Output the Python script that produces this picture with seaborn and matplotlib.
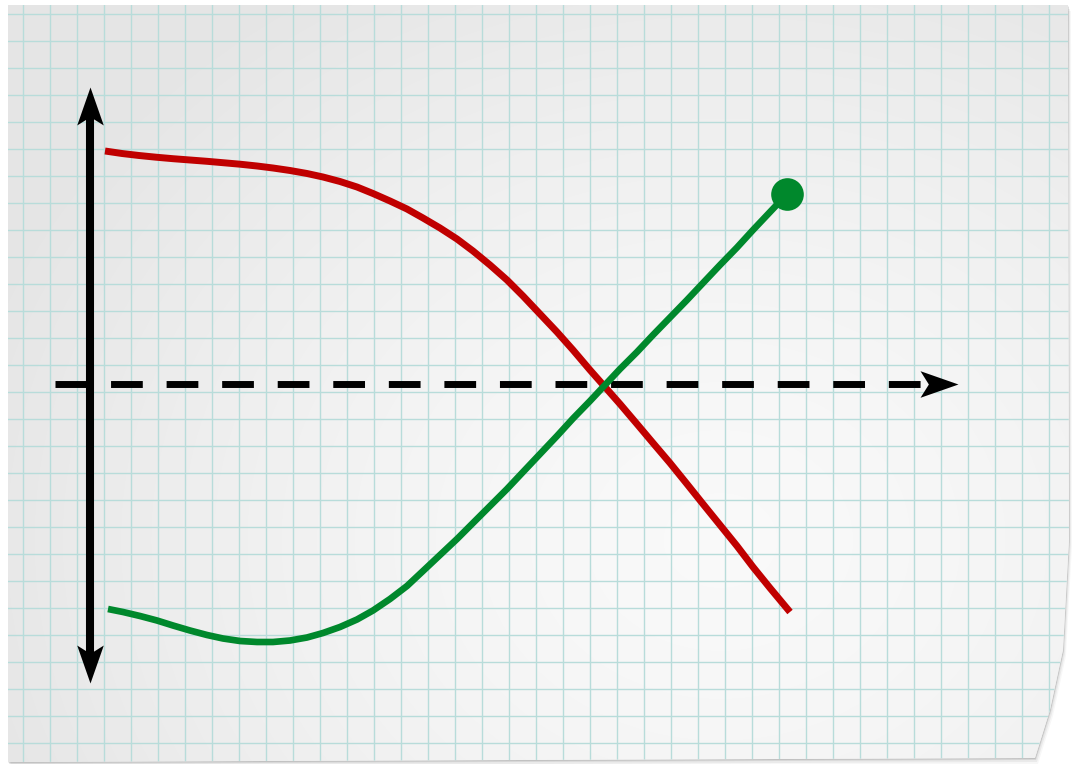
"""Two crossing curves drawn on a sheet of graph paper."""

import matplotlib
matplotlib.use("Agg")
import matplotlib.pyplot as plt
import numpy as np
import pandas as pd
import seaborn as sns
from matplotlib.collections import LineCollection
from matplotlib.markers import MarkerStyle
from matplotlib.patches import Polygon
from matplotlib.path import Path
from matplotlib.transforms import Affine2D

# curve values, measured from the axis crossing (1 unit = 1/27 grid cell)
red_x = [15, 32, 49, 66, 83, 100, 117, 133, 150, 167, 183, 200, 217, 233, 250,
         267, 283, 300, 317, 333, 350, 367, 383, 400, 417, 433, 450, 467, 483,
         500, 515, 530, 547, 563, 580, 597, 613, 630, 647, 663, 680, 700]
red_y = [233, 230.5, 228.5, 226.8, 225.3, 224, 222.7, 221.3, 219.8, 218, 216,
         213.5, 210.5, 207, 202.5, 197, 190.5, 183, 175, 166, 156, 145, 133,
         119, 104, 88, 70, 52, 34, 14, -3, -20, -40, -59, -79, -100, -120,
         -141, -162, -183, -204, -228]

green_x = [18, 33, 50, 67, 83, 100, 117, 133, 150, 167, 183, 200, 217, 233, 250,
           267, 283, 300, 317, 333, 350, 367, 383, 400, 417, 433, 450, 467, 483,
           500, 515, 530, 547, 563, 580, 597, 613, 630, 647, 663, 680, 697]
green_y = [-225, -228, -232, -236.5, -241.5, -246.5, -251, -254.5, -257, -258,
           -258, -256.5, -253.5, -249, -243, -235.5, -226.5, -215, -202, -187,
           -171, -155, -139, -122, -105, -88, -70, -52, -34.5, -17, -1, 15, 32,
           49, 66.5, 84, 101, 119, 136.5, 154, 172, 190]

y_axis_span = [-299, 297]
x_axis_span = [-35, 868]

RED = "#c00000"
GREEN = "#00882c"
GRID = "#b8dcda"

W, H = 1073, 764
ORIGIN = (90, 384)   # pixel position of the axis crossing
CELL = 27            # pixels per grid cell
HEAD = 38            # arrow head length in data units

sns.set_theme(style="white")
fig = plt.figure(figsize=(W / 100, H / 100), dpi=100)
fig.patch.set_facecolor("white")

# --- the sheet of paper (pixel coordinates) ---
bg = fig.add_axes([0, 0, 1, 1])
bg.axis("off")
paper_xy = [(8, 5), (1068, 5), (1069, 540), (1063, 650), (1050, 710),
            (1035, 758), (8, 762)]
for off, a in [(6, 0.03), (4, 0.05), (2, 0.08), (1, 0.1)]:
    bg.add_patch(Polygon([(x + off * 0.5, y + off) for x, y in paper_xy],
                         closed=True, fc="black", ec="none", alpha=a, zorder=0))
paper = Polygon(paper_xy, closed=True, fc="#efefef", ec="none", zorder=1)
bg.add_patch(paper)

yy, xx = np.mgrid[0:H, 0:W]
d = np.hypot(xx - 720, (yy - 540) * 1.2) / 760
shade = np.clip(0.978 - 0.075 * d ** 1.5, 0.9, 0.98)
img = bg.imshow(np.dstack([shade] * 3), extent=(0, W, H, 0), origin="upper",
                aspect="auto", zorder=1.5)
img.set_clip_path(paper)

segs = [[(x, 0), (x, H)] for x in np.arange(23, W, CELL)]
segs += [[(0, y), (W, y)] for y in np.arange(14, H, CELL)]
grid = LineCollection(segs, colors=GRID, linewidths=1.0, zorder=2)
grid.set_clip_path(paper)
bg.add_collection(grid)
bg.set_xlim(0, W)
bg.set_ylim(H, 0)

# --- the chart ---
ax = fig.add_axes([0, 0, 1, 1])
ax.patch.set_alpha(0)
ax.axis("off")

head = Path([(0, 0), (-1, 0.35), (-0.78, 0), (-1, -0.35), (0, 0)],
            [Path.MOVETO, Path.LINETO, Path.LINETO, Path.LINETO, Path.CLOSEPOLY])


def arrowhead(x, y, angle):
    ax.plot([x], [y], linestyle="none", color="black", mew=0, ms=54.7, zorder=6,
            marker=MarkerStyle(head, transform=Affine2D().rotate_deg(angle)))


# vertical axis, arrows at both ends
lo, hi = y_axis_span
ax.plot([0, 0], [lo + 0.6 * HEAD, hi - 0.6 * HEAD], color="black", lw=5.8,
        solid_capstyle="butt", zorder=5)
arrowhead(0, hi, 90)
arrowhead(0, lo, -90)

# dashed horizontal axis
x0, x1 = x_axis_span
ax.plot([x0, x1 - 0.75 * HEAD], [0, 0], color="black", lw=5.0,
        dashes=(4.57, 3.43), dash_capstyle="butt", zorder=3)
arrowhead(x1, 0, 0)

red = pd.DataFrame({"x": red_x, "y": red_y})
green = pd.DataFrame({"x": green_x, "y": green_y})
sns.lineplot(data=red, x="x", y="y", sort=False, estimator=None, color=RED,
             lw=5.0, solid_capstyle="butt", solid_joinstyle="round", ax=ax,
             zorder=4)
sns.lineplot(data=green, x="x", y="y", sort=False, estimator=None, color=GREEN,
             lw=4.8, solid_capstyle="butt", solid_joinstyle="round", ax=ax,
             zorder=4.5)
ax.plot(green_x[-1], green_y[-1], "o", ms=23.5, color=GREEN, mew=0, zorder=4.6)

ax.set_xlim(-ORIGIN[0], W - ORIGIN[0])
ax.set_ylim(ORIGIN[1] - H, ORIGIN[1])

fig.savefig("out.png", dpi=100)
